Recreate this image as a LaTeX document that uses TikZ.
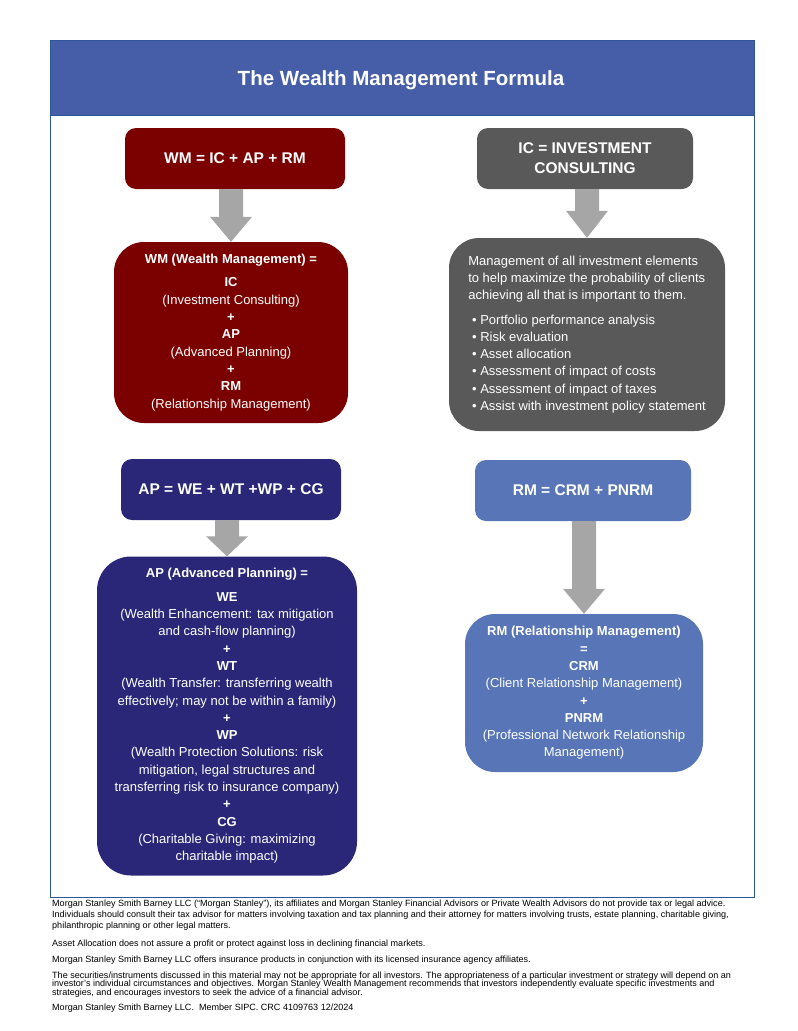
\documentclass[tikz,border=0pt]{standalone}
\usepackage{fontspec}
\setmainfont{Liberation Sans}
\usepackage{tikz}
\usetikzlibrary{calc,positioning}
\usepackage{xcolor}

\definecolor{hdblue}{RGB}{70,93,167}
\definecolor{frameblue}{RGB}{47,85,151}
\definecolor{wmred}{RGB}{123,0,0}
\definecolor{icgrey}{RGB}{89,89,89}
\definecolor{apnavy}{RGB}{42,39,120}
\definecolor{rmblue}{RGB}{88,117,184}
\definecolor{arrowgrey}{RGB}{166,166,166}

\tikzset{
  hdbox/.style={rounded corners=11pt, inner sep=0pt, text=white, align=center,
    font=\bfseries\fontsize{15.5}{20}\selectfont},
  detailbox/.style={rounded corners=30pt, inner sep=0pt, text=white, align=center,
    font=\fontsize{13}{17.3}\selectfont},
  footnote/.style={anchor=west, inner sep=0pt, font=\fontsize{9.05}{10}\selectfont}
}

% grey block arrow from the bottom of #1 down to the top of #2, head length #3
\newcommand{\downblock}[3]{%
  \path (#2.north |- #1.south) coordinate (s) (#2.north) coordinate (t);
  \fill[arrowgrey] ($(s)+(-12,0)$) -- ($(s)+(12,0)$) -- ($(t)+(12,-#3)$)
    -- ($(t)+(21,-#3)$) -- (t) -- ($(t)+(-21,-#3)$) -- ($(t)+(-12,-#3)$) -- cycle;
}

\begin{document}
\begin{tikzpicture}[x=1pt, y=-1pt]
    \useasboundingbox (0,0) rectangle (798,1031);

    % Frame and title bar
    \draw[frameblue, line width=0.8pt] (50,40) rectangle (754,897);
    \filldraw[fill=hdblue, draw=frameblue, line width=0.8pt] (50,40) rectangle (754,115);
    \node[text=white, font=\bfseries\fontsize{20.5}{24}\selectfont] (title) at (401,80) {The Wealth Management Formula};

    % Wealth management
    \node[hdbox, fill=wmred, minimum width=220pt, minimum height=61pt] (wm) at (235,158.5) {WM = IC + AP + RM};
    \node[detailbox, fill=wmred, minimum width=234pt, minimum height=181pt] (wmdef) at (231,332.5)
      {\textbf{WM (Wealth Management) =}\\[6pt]
       \textbf{IC}\\ (Investment Consulting)\\ \textbf{+}\\
       \textbf{AP}\\ (Advanced Planning)\\ \textbf{+}\\
       \textbf{RM}\\ (Relationship Management)};
    \downblock{wm}{wmdef}{25}

    % Investment consulting
    \node[hdbox, fill=icgrey, minimum width=216pt, minimum height=61pt] (ic) at (585,158.5) {IC = INVESTMENT\\CONSULTING};
    \node[detailbox, fill=icgrey, minimum width=276pt, minimum height=193pt, align=left] (icdef) at (587,334.5)
      {Management of all investment elements\\
       to help maximize the probability of clients\\
       achieving all that is important to them.\\[7pt]
       \makebox[12pt][c]{\textbullet}Portfolio performance analysis\\
       \makebox[12pt][c]{\textbullet}Risk evaluation\\
       \makebox[12pt][c]{\textbullet}Asset allocation\\
       \makebox[12pt][c]{\textbullet}Assessment of impact of costs\\
       \makebox[12pt][c]{\textbullet}Assessment of impact of taxes\\
       \makebox[12pt][c]{\textbullet}Assist with investment policy statement};
    \downblock{ic}{icdef}{27}

    % Advanced planning
    \node[hdbox, fill=apnavy, minimum width=220pt, minimum height=61pt] (ap) at (231,489.5) {AP = WE + WT +WP + CG};
    \node[detailbox, fill=apnavy, rounded corners=34pt, minimum width=260pt, minimum height=319pt] (apdef) at (227,716)
      {\textbf{AP (Advanced Planning) =}\\[6pt]
       \textbf{WE}\\ (Wealth Enhancement: tax mitigation\\ and cash-flow planning)\\ \textbf{+}\\
       \textbf{WT}\\ (Wealth Transfer: transferring wealth\\ effectively; may not be within a family)\\ \textbf{+}\\
       \textbf{WP}\\ (Wealth Protection Solutions: risk\\ mitigation, legal structures and\\ transferring risk to insurance company)\\ \textbf{+}\\
       \textbf{CG}\\ (Charitable Giving: maximizing\\ charitable impact)};
    \downblock{ap}{apdef}{20}

    % Relationship management
    \node[hdbox, fill=rmblue, minimum width=216pt, minimum height=61pt] (rm) at (583,490.5) {RM = CRM + PNRM};
    \node[detailbox, fill=rmblue, minimum width=238pt, minimum height=158pt] (rmdef) at (584,693)
      {\textbf{RM (Relationship Management)}\\ \textbf{=}\\
       \textbf{CRM}\\ (Client Relationship Management)\\ \textbf{+}\\
       \textbf{PNRM}\\ (Professional Network Relationship\\ Management)};
    \downblock{rm}{rmdef}{25}

    % Disclosures
    \node[footnote] (d1) at (52,904) {Morgan Stanley Smith Barney LLC (``Morgan Stanley''), its affiliates and Morgan Stanley Financial Advisors or Private Wealth Advisors do not provide tax or legal advice.};
    \node[footnote] (d2) at (52,915) {Individuals should consult their tax advisor for matters involving taxation and tax planning and their attorney for matters involving trusts, estate planning, charitable giving,};
    \node[footnote] (d3) at (52,926) {philanthropic planning or other legal matters.};
    \node[footnote] (d4) at (52,944) {Asset Allocation does not assure a profit or protect against loss in declining financial markets.};
    \node[footnote] (d5) at (52,960) {Morgan Stanley Smith Barney LLC offers insurance products in conjunction with its licensed insurance agency affiliates.};
    \node[footnote] (d6) at (52,976) {The securities/instruments discussed in this material may not be appropriate for all investors. The appropriateness of a particular investment or strategy will depend on an};
    \node[footnote] (d7) at (52,984.5) {investor's individual circumstances and objectives. Morgan Stanley Wealth Management recommends that investors independently evaluate specific investments and};
    \node[footnote] (d8) at (52,993) {strategies, and encourages investors to seek the advice of a financial advisor.};
    \node[footnote] (d9) at (52,1008) {Morgan Stanley Smith Barney LLC.\ \ Member SIPC. CRC 4109763 12/2024};
\end{tikzpicture}
\end{document}
